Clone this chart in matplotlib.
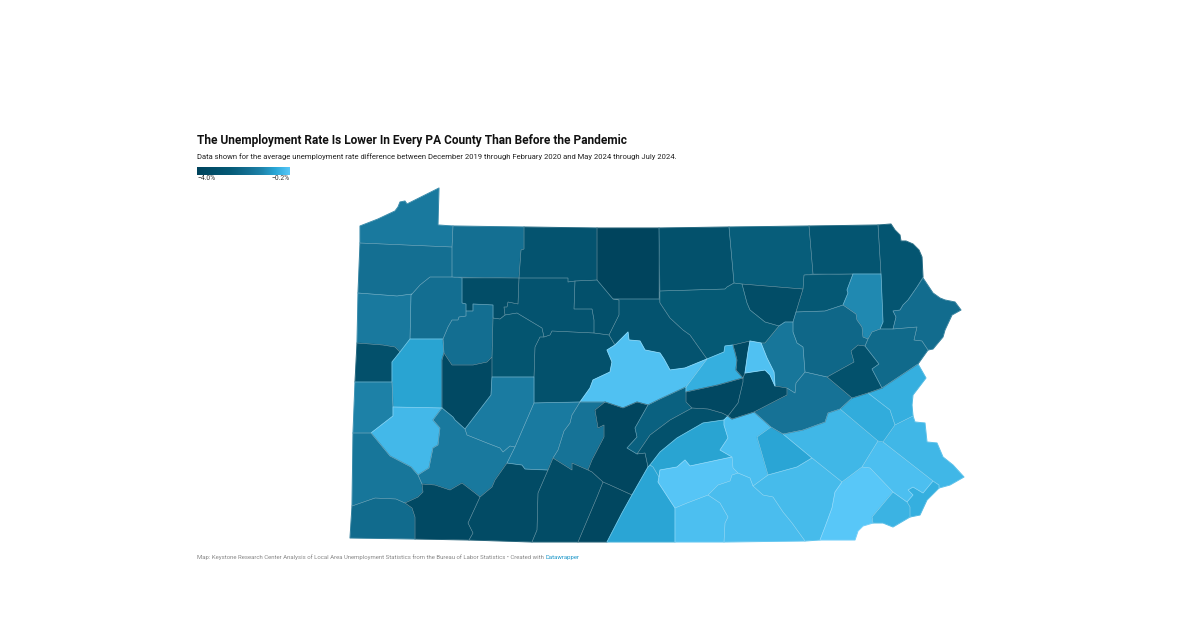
import numpy as np
import matplotlib
matplotlib.use("Agg")
import matplotlib.pyplot as plt
from matplotlib.collections import PolyCollection
from matplotlib.colors import LinearSegmentedColormap, Normalize

plt.rcParams['font.family'] = ['Roboto', 'DejaVu Sans']

TITLE = "The Unemployment Rate Is Lower In Every PA County Than Before the Pandemic"
SUBTITLE = "Data shown for the average unemployment rate difference between December 2019 through February 2020 and May 2024 through July 2024."
SOURCE = "Map: Keystone Research Center Analysis of Local Area Unemployment Statistics from the Bureau of Labor Statistics \u2022 Created with "
CREDIT = "Datawrapper"
LEGEND_LABELS = ["\u22124.0%", "\u22120.2%"]
VMIN, VMAX = -4.0, -0.2

counties = ["Erie","Crawford","Warren","McKean","Potter","Tioga","Bradford","Susquehanna","Wayne","Pike",
 "Wyoming","Lackawanna","Sullivan","Luzerne","Columbia","Lycoming","Clinton","Cameron","Elk","Forest",
 "Venango","Mercer","Lawrence","Butler","Beaver","Clarion","Jefferson","Armstrong","Clearfield","Centre",
 "Allegheny","Indiana","Westmoreland","Washington","Greene","Fayette","Somerset","Cambria","Blair","Bedford",
 "Fulton","Huntingdon","Mifflin","Juniata","Perry","Franklin","Cumberland","Adams","York","Dauphin",
 "Lebanon","Lancaster","Chester","Delaware","Philadelphia","Montgomery","Bucks","Berks","Lehigh","Northampton",
 "Schuylkill","Carbon","Monroe","Union","Snyder","Montour","Northumberland","Snyder-east"]

rate_change = [-1.64,-1.91,-1.91,-3.05,-3.92,-3.16,-2.56,-2.94,-2.94,-2.02,
 -2.78,-1.26,-3.43,-2.18,-1.72,-2.75,-3.05,-3.24,-3.05,-3.43,
 -1.95,-1.64,-3.24,-0.85,-1.42,-1.95,-2.97,-3.62,-3.16,-0.31,
 -0.47,-1.57,-1.64,-1.72,-2.05,-3.62,-3.54,-1.61,-1.80,-3.47,
 -3.77,-3.81,-2.40,-3.16,-0.85,-0.81,-0.24,-0.35,-0.39,-0.35,
 -0.81,-0.43,-0.20,-0.58,-0.66,-0.35,-0.50,-0.50,-0.69,-0.66,
 -1.83,-3.16,-2.10,-0.66,-3.70,-3.62,-3.54,-0.31]

outlines = [
 [(360,226),(378,219),(395,211),(398,207),(400,202),(405,201),(407,204),(439,188),(438,225),(453,226),(452,247),(360,243)],
 [(360,243),(452,247),(452,277),(430,277),(420,285),(412,294),(397,296),(358,293)],
 [(453,226),(524,227),(524,249),(521,250),(519,278),(452,277),(452,247)],
 [(524,227),(597,228),(597,280),(575,281),(568,282),(568,278),(519,278),(521,250),(524,249)],
 [(597,228),(659,228),(659,299),(613,299),(597,280)],
 [(659,228),(729,227),(734,283),(727,287),(725,289),(660,291)],
 [(729,227),(809,226),(813,274),(804,275),(803,289),(742,284),(734,283)],
 [(809,226),(878,225),(881,274),(813,274)],
 [(878,225),(891,224),(895,230),(900,235),(901,241),(906,241),(913,244),(919,250),(922,257),(923,277),(917,287),(908,300),(903,305),(900,310),(893,311),(896,317),(893,329),(880,329),(883,322),(881,274)],
 [(923,278),(933,293),(940,298),(945,300),(955,302),(961,310),(952,315),(945,330),(943,337),(933,349),(928,350),(922,341),(914,340),(917,327),(893,329),(896,317),(893,311),(900,310),(903,305),(908,300),(917,287)],
 [(804,275),(853,274),(847,290),(848,293),(843,305),(825,311),(796,312),(803,289)],
 [(853,274),(881,274),(883,322),(880,329),(872,332),(868,339),(863,337),(862,327),(857,320),(856,314),(843,305),(848,293),(847,290)],
 [(742,284),(803,289),(796,312),(793,322),(785,322),(779,326),(765,322),(750,310),(747,303)],
 [(796,312),(825,311),(843,305),(856,314),(857,320),(862,327),(863,337),(868,339),(865,346),(858,345),(851,351),(854,362),(827,377),(805,372),(803,347),(797,343),(793,332),(793,322)],
 [(785,322),(793,322),(793,332),(797,343),(803,347),(805,372),(796,383),(795,393),(787,388),(775,386),(774,372),(767,358),(761,343),(765,343),(779,326)],
 [(660,291),(725,289),(727,287),(734,283),(742,284),(747,303),(750,310),(765,322),(779,326),(765,343),(761,343),(750,341),(733,345),(725,346),(724,352),(707,359),(690,335),(683,330),(670,318),(660,303)],
 [(613,299),(659,299),(660,303),(670,318),(683,330),(690,335),(707,359),(685,368),(670,370),(664,359),(660,353),(645,350),(640,341),(629,340),(628,332),(615,345),(609,335),(619,315),(619,300)],
 [(575,281),(597,280),(613,299),(619,300),(619,315),(609,335),(594,333),(594,320),(592,309),(574,309)],
 [(519,278),(568,278),(568,282),(575,281),(574,309),(592,309),(594,320),(594,333),(552,331),(550,335),(544,337),(542,328),(517,313),(505,315),(504,307),(507,307),(508,302),(518,304)],
 [(462,278),(519,278),(518,304),(508,302),(507,307),(504,307),(505,315),(500,319),(493,318),(493,305),(473,304),(473,311),(466,311),(466,304),(462,303)],
 [(412,294),(420,285),(430,277),(452,277),(462,278),(462,303),(466,304),(466,316),(459,317),(458,320),(452,320),(448,327),(443,339),(410,339),(411,295)],
 [(358,293),(397,296),(412,294),(411,295),(410,339),(400,352),(395,347),(383,345),(357,343)],
 [(357,343),(383,345),(395,347),(400,352),(392,362),(392,382),(355,382)],
 [(410,339),(443,339),(444,353),(442,360),(442,408),(393,407),(392,382),(392,362),(400,352)],
 [(355,382),(392,382),(393,407),(393,416),(371,433),(353,433)],
 [(443,339),(448,327),(452,320),(458,320),(459,317),(466,316),(466,311),(473,311),(473,304),(493,305),(493,318),(492,357),(487,362),(473,365),(452,365),(444,353)],
 [(493,318),(500,319),(505,315),(517,313),(542,328),(544,337),(540,337),(535,347),(534,377),(492,377),(492,357)],
 [(444,353),(452,365),(473,365),(487,362),(492,357),(492,377),(491,395),(465,429),(455,420),(453,417),(442,408),(442,360)],
 [(544,337),(550,335),(552,331),(594,333),(609,335),(615,345),(607,350),(612,362),(610,372),(593,380),(590,388),(580,402),(534,403),(534,377),(535,347),(540,337)],
 [(580,402),(590,388),(593,380),(610,372),(612,362),(607,350),(615,345),(628,332),(629,340),(640,341),(645,350),(660,353),(664,359),(670,370),(685,368),(707,359),(686,387),(660,399),(648,405),(637,402),(623,408),(605,402)],
 [(393,407),(442,408),(433,420),(440,428),(438,445),(433,448),(429,468),(418,475),(411,467),(390,456),(371,433),(393,416)],
 [(492,377),(534,377),(534,403),(515,447),(510,446),(503,452),(500,448),(487,443),(467,435),(465,429),(491,395)],
 [(442,408),(453,417),(455,420),(465,429),(467,435),(487,443),(500,448),(503,452),(510,446),(515,447),(507,463),(495,480),(492,487),(480,497),(475,493),(462,483),(450,490),(435,485),(422,484),(418,475),(429,468),(433,448),(438,445),(440,428),(433,420)],
 [(353,433),(371,433),(390,456),(411,467),(418,475),(422,484),(423,492),(418,497),(405,503),(396,499),(375,498),(352,506)],
 [(352,506),(375,498),(396,499),(405,503),(412,508),(415,517),(415,539),(350,538)],
 [(422,484),(435,485),(450,490),(462,483),(475,493),(480,497),(468,523),(473,533),(469,540),(415,539),(415,517),(412,508),(405,503),(418,497),(423,492)],
 [(480,497),(492,487),(495,480),(507,463),(522,465),(525,469),(548,470),(538,493),(537,530),(532,542),(469,540),(473,533),(468,523)],
 [(534,403),(580,402),(572,415),(570,423),(564,431),(558,450),(553,458),(548,470),(525,469),(522,465),(507,463),(515,447)],
 [(580,402),(605,402),(595,410),(598,428),(604,425),(604,437),(592,460),(588,470),(572,463),(572,470),(553,458),(558,450),(564,431),(570,423),(572,415)],
 [(553,458),(572,470),(572,463),(588,470),(592,472),(603,482),(597,497),(578,542),(532,542),(537,530),(538,493),(548,470)],
 [(603,482),(610,485),(632,495),(622,513),(607,542),(578,542),(597,497)],
 [(595,410),(605,402),(623,408),(637,402),(648,405),(635,428),(637,437),(627,448),(637,454),(645,453),(648,467),(632,495),(610,485),(603,482),(592,472),(588,470),(592,460),(604,437),(604,425),(598,428)],
 [(648,405),(660,399),(686,387),(686,402),(692,408),(670,420),(650,435),(637,454),(627,448),(637,437),(635,428)],
 [(692,408),(708,409),(722,413),(728,416),(724,420),(703,423),(677,438),(660,452),(650,465),(648,467),(645,453),(637,454),(650,435),(670,420)],
 [(724,420),(724,425),(728,438),(720,450),(732,457),(690,466),(685,460),(677,467),(660,470),(659,477),(653,467),(650,465),(660,452),(677,438),(703,423)],
 [(648,467),(650,465),(653,467),(659,477),(658,482),(675,508),(675,542),(607,542),(622,513),(632,495)],
 [(732,457),(733,468),(738,473),(732,475),(730,481),(718,485),(708,495),(687,503),(675,508),(658,482),(659,477),(660,470),(677,467),(685,460),(690,466)],
 [(675,508),(687,503),(708,495),(720,503),(728,517),(725,523),(724,542),(675,542)],
 [(708,495),(718,485),(730,481),(732,475),(738,473),(750,478),(753,486),(763,495),(773,497),(783,512),(792,523),(805,541),(724,542),(725,523),(728,517),(720,503)],
 [(754,412),(771,427),(757,437),(768,475),(753,486),(750,478),(738,473),(733,468),(732,457),(720,450),(728,438),(724,425),(724,420),(728,416),(732,419)],
 [(757,437),(771,427),(783,434),(812,458),(797,467),(768,475)],
 [(753,486),(768,475),(797,467),(812,458),(842,482),(835,492),(832,508),(825,527),(820,540),(805,541),(792,523),(783,512),(773,497),(763,495)],
 [(842,482),(862,467),(870,468),(893,492),(872,517),(873,523),(863,526),(858,531),(855,540),(820,540),(825,527),(832,508),(835,492)],
 [(893,492),(907,502),(910,507),(910,517),(893,527),(883,523),(873,523),(872,517)],
 [(908,490),(913,487),(923,493),(933,481),(939,485),(939,488),(927,500),(920,515),(910,517),(910,507),(907,502),(913,495)],
 [(878,441),(883,442),(933,481),(923,493),(913,487),(908,490),(913,495),(907,502),(893,492),(870,468),(862,467)],
 [(883,442),(895,425),(913,416),(915,422),(925,423),(927,442),(937,443),(943,457),(953,465),(964,477),(950,485),(939,488),(939,485),(933,481)],
 [(840,409),(878,441),(862,467),(842,482),(812,458),(783,434),(803,430),(825,422),(828,413)],
 [(852,398),(868,393),(877,400),(890,410),(895,425),(883,442),(878,441),(840,409)],
 [(882,388),(918,364),(926,378),(913,395),(912,405),(913,416),(895,425),(890,410),(877,400),(868,393)],
 [(787,395),(787,388),(795,393),(796,383),(805,372),(827,377),(852,398),(840,409),(828,413),(825,422),(803,430),(783,434),(771,427),(754,412)],
 [(827,377),(854,362),(851,351),(858,345),(865,346),(879,364),(872,369),(882,388),(868,393),(852,398)],
 [(865,346),(868,339),(872,332),(880,329),(893,329),(917,327),(914,340),(922,341),(928,350),(918,364),(882,388),(872,369),(879,364)],
 [(707,359),(724,352),(725,346),(733,345),(735,352),(737,360),(736,370),(743,378),(718,385),(686,392),(686,387)],
 [(686,392),(718,385),(743,378),(743,382),(738,403),(728,416),(722,413),(708,409),(692,408),(686,402)],
 [(733,345),(750,341),(748,352),(745,373),(743,378),(736,370),(737,360),(735,352)],
 [(745,373),(765,370),(770,375),(775,386),(787,388),(787,395),(754,412),(732,419),(728,416),(738,403),(743,382),(743,378)],
 [(750,341),(761,343),(767,358),(774,372),(775,386),(770,375),(765,370),(745,373),(748,352)],
]

cmap = LinearSegmentedColormap.from_list("rate", [
    (0.00, "#00435c"), (0.35, "#055a76"), (0.55, "#146f92"),
    (0.70, "#1e84ab"), (0.85, "#2ba8d8"), (1.00, "#58c7f8")])
norm = Normalize(VMIN, VMAX)

fig = plt.figure(figsize=(12, 6.28), dpi=100, facecolor="white")
ax = fig.add_axes([0, 0, 1, 1])
ax.set_xlim(0, 1200)
ax.set_ylim(628, 0)
ax.axis("off")

values = np.array(rate_change)
fill = PolyCollection(outlines, array=values, cmap=cmap, norm=norm, edgecolors="face", linewidths=0.7)
ax.add_collection(fill)
lines = PolyCollection(outlines, facecolors="none", edgecolors=(1, 1, 1, 0.25), linewidths=0.4)
ax.add_collection(lines)

ax.text(197, 140.5, TITLE, fontsize=8.6, fontweight="bold", color="#111111", va="center", ha="left")
ax.text(197, 157, SUBTITLE, fontsize=5.46, color="#222222", va="center", ha="left")
ax.text(197, 557, SOURCE, fontsize=4.34, color="#888888", va="center", ha="left")
ax.text(546, 557, CREDIT, fontsize=4.34, color="#1d97c9", va="center", ha="left")

leg = fig.add_axes([197/1200, 1-175/628, 93/1200, 8/628])
leg.imshow(np.linspace(0, 1, 256)[None, :], cmap=cmap, aspect="auto", vmin=0, vmax=1)
leg.axis("off")
ax.text(197.5, 179, LEGEND_LABELS[0], fontsize=4.9, color="#333333", va="center", ha="left")
ax.text(290, 179, LEGEND_LABELS[1], fontsize=4.9, color="#333333", va="center", ha="right")

assert len(counties) == len(rate_change) == len(outlines)
fig.savefig("out.png", dpi=100)
